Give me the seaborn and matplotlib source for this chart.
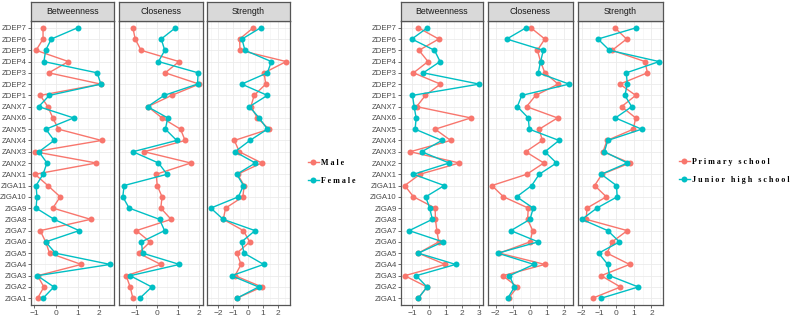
import numpy as np
import pandas as pd
import matplotlib
matplotlib.use('Agg')
import matplotlib.pyplot as plt
import seaborn as sns
from matplotlib.ticker import MultipleLocator

nodes = ["ZDEP7", "ZDEP6", "ZDEP5", "ZDEP4", "ZDEP3", "ZDEP2", "ZDEP1",
         "ZANX7", "ZANX6", "ZANX5", "ZANX4", "ZANX3", "ZANX2", "ZANX1",
         "ZIGA11", "ZIGA10", "ZIGA9", "ZIGA8", "ZIGA7", "ZIGA6", "ZIGA5",
         "ZIGA4", "ZIGA3", "ZIGA2", "ZIGA1"]
measures = ["Betweenness", "Closeness", "Strength"]

# sex groups (top to bottom order of nodes)
male_betw = [-0.59, -0.59, -0.91, 0.58, -0.33, 2.07, -0.72, -0.37, -0.14, 0.12, 2.1, -0.97, 1.86,
             -0.96, -0.37, 0.2, -0.14, 1.6, -0.72, -0.47, -0.29, 1.17, -0.84, -0.55, -0.84]
female_betw = [1.0, -0.21, -0.47, -0.55, 1.9, 2.07, -0.30, -0.79, 0.82, -0.46, -0.08, -0.78, -0.41,
               -0.59, -0.91, -0.87, -0.91, -0.08, 1.07, -0.47, -0.02, 2.5, -0.85, -0.09, -0.59]
male_close = [-1.14, -1.03, -0.75, 1.06, 0.4, 2.02, 0.71, -0.43, 0.25, 1.13, 1.35, -0.6, 1.62,
              -0.03, 0.02, 0.25, 0.19, 0.68, -0.98, -0.32, -0.87, 0.19, -1.46, -1.27, -1.14]
female_close = [0.89, 0.21, 0.38, 0.08, 1.97, 1.94, 0.35, -0.44, 0.52, 0.41, 0.95, -1.14, 0.08,
                0.49, -1.56, -1.62, -1.32, 0.13, 0.37, -0.73, -0.68, 1.08, -1.27, -0.24, -0.81]
male_str = [0.36, -0.56, -0.53, 2.58, 1.09, 1.2, 0.42, 0.2, 0.64, 1.42, -0.91, -0.58, 0.93,
            -0.7, -0.25, -0.34, -1.5, -1.66, -0.3, 0.12, -0.74, -0.46, -0.87, 0.94, -0.75]
female_str = [0.86, -0.4, -0.2, 1.58, 1.31, -0.42, 1.31, 0.1, 0.76, 1.31, 0.13, -0.87, 0.5,
              -0.75, -0.3, -0.64, -2.5, -1.66, 0.48, -0.43, -0.26, 1.06, -1.1, 0.72, -0.75]

# school groups
prim_betw = [-0.65, 0.59, -0.61, -0.06, -0.94, 0.69, -0.22, -0.75, 2.53, 0.37, 1.31, -1.14, 1.84,
             -0.55, -1.47, -0.94, 0.37, 0.39, 0.47, 0.59, -0.65, 0.98, -1.47, -0.12, -0.65]
jun_betw = [-0.1, -1.04, 0.33, 0.67, -0.35, 3.04, -1.0, -0.9, -0.78, -0.84, 0.78, -0.45, 1.22,
            -0.94, 0.92, -0.2, 0.04, 0.2, -1.2, 0.84, -0.65, 1.61, -0.78, -0.12, -0.65]
prim_close = [0.05, 0.87, 0.43, 0.62, 0.87, 1.65, 0.33, -0.2, 1.61, 0.54, 0.72, -0.25, 0.81,
              -0.19, -2.23, -1.55, -0.1, -0.14, 0.16, 0.0, -1.8, 0.87, -1.59, -0.74, -1.25]
jun_close = [-0.23, -1.36, 0.78, 0.62, 0.48, 2.29, -0.48, -0.74, -0.1, -0.04, 1.7, 0.87, 1.55,
             0.54, 0.1, -0.78, 0.19, 0.0, -1.12, 0.48, -1.88, 0.23, -1.2, -0.91, -1.3]
prim_str = [-0.1, 0.58, -0.25, 1.63, 1.77, 0.19, 1.1, 0.29, 1.1, 0.96, -0.54, -0.77, 0.77,
            -0.83, -1.25, -0.58, -1.69, -1.73, 0.62, -0.25, -0.54, 0.75, -0.88, 0.23, -1.37]
jun_str = [1.13, -1.06, -0.4, 2.44, 0.56, 0.62, 0.48, 0.87, -0.06, 1.44, -0.5, -0.69, 0.62,
           -0.87, 0.0, 0.04, -1.12, -1.98, -0.5, 0.17, -1.02, -0.5, -0.4, 1.25, -0.88]

colors = ["#F8766D", "#00BFC4"]


def make_df(groups, series):
    rows = []
    for g, vals in zip(groups, series):
        for m, v in zip(measures, vals):
            for i, n in enumerate(nodes):
                rows.append({"group": g, "measure": m, "node": n,
                             "pos": len(nodes) - 1 - i, "value": v[i]})
    return pd.DataFrame(rows)


sex_df = make_df(["Male", "Female"],
                 [[male_betw, male_close, male_str], [female_betw, female_close, female_str]])
school_df = make_df(["Primary school", "Junior high school"],
                    [[prim_betw, prim_close, prim_str], [jun_betw, jun_close, jun_str]])

W, H = 795, 320
fig = plt.figure(figsize=(W / 100, H / 100), dpi=100)
plt.rcParams['font.family'] = ['Liberation Sans', 'DejaVu Sans']

panel_top, panel_bot, strip_top = 21, 305, 2
left_panels = [(31, 114), (119, 203), (207, 290)]
right_panels = [(401, 483), (488, 573), (578, 663)]


def draw_group(df, panels, groups, legend_xy):
    handles = None
    for k, (m, (x0, x1)) in enumerate(zip(measures, panels)):
        ax = fig.add_axes([x0 / W, 1 - panel_bot / H, (x1 - x0) / W, (panel_bot - panel_top) / H])
        sub = df[df["measure"] == m]
        sns.lineplot(data=sub, x="value", y="pos", hue="group", hue_order=groups,
                     palette=colors, orient="y", marker="o", markersize=4.3,
                     markeredgewidth=0, linewidth=1.0, ax=ax, legend=(k == 0))
        if k == 0:
            handles, _ = ax.get_legend_handles_labels()
            ax.get_legend().remove()
        lo, hi = sub["value"].min(), sub["value"].max()
        pad = (hi - lo) * 0.05
        ax.set_xlim(lo - pad, hi + pad)
        ax.set_ylim(-0.6, len(nodes) - 0.4)
        ax.set_yticks(range(len(nodes)))
        ax.set_yticklabels(nodes[::-1] if k == 0 else [])
        ax.xaxis.set_major_locator(MultipleLocator(1))
        ax.xaxis.set_minor_locator(MultipleLocator(0.5))
        ax.set_axisbelow(True)
        ax.grid(which="major", color="#EBEBEB", linewidth=0.6)
        ax.grid(which="minor", axis="x", color="#F2F2F2", linewidth=0.4)
        ax.set_xlabel("")
        ax.set_ylabel("")
        ax.tick_params(which="major", length=2, width=0.5, color="#333333",
                       labelsize=6, labelcolor="#4D4D4D", pad=1.5)
        ax.tick_params(axis="y", labelsize=5.6, pad=1)
        ax.tick_params(which="minor", length=0)
        if k != 0:
            ax.tick_params(axis="y", length=0)
        for s in ax.spines.values():
            s.set_color("#555555")
            s.set_linewidth(0.9)
        # facet strip
        sax = fig.add_axes([x0 / W, 1 - panel_top / H, (x1 - x0) / W, (panel_top - strip_top) / H])
        sax.set_facecolor("#D9D9D9")
        sax.set_xticks([])
        sax.set_yticks([])
        for s in sax.spines.values():
            s.set_color("#555555")
            s.set_linewidth(0.9)
        sax.text(0.5, 0.48, m, ha="center", va="center", fontsize=6.3, color="#1A1A1A",
                 transform=sax.transAxes)
    labels = [" ".join(g) for g in groups]
    fig.legend(handles, labels, loc="center left", bbox_to_anchor=legend_xy,
               frameon=False, handlelength=1.3, handletextpad=0.3, labelspacing=1.2,
               prop={"family": "Liberation Serif", "weight": "bold", "size": 5.8})


draw_group(sex_df, left_panels, ["Male", "Female"], (301 / W, 1 - 172 / H))
draw_group(school_df, right_panels, ["Primary school", "Junior high school"], (672 / W, 1 - 171 / H))

fig.savefig("out.png", dpi=100)
